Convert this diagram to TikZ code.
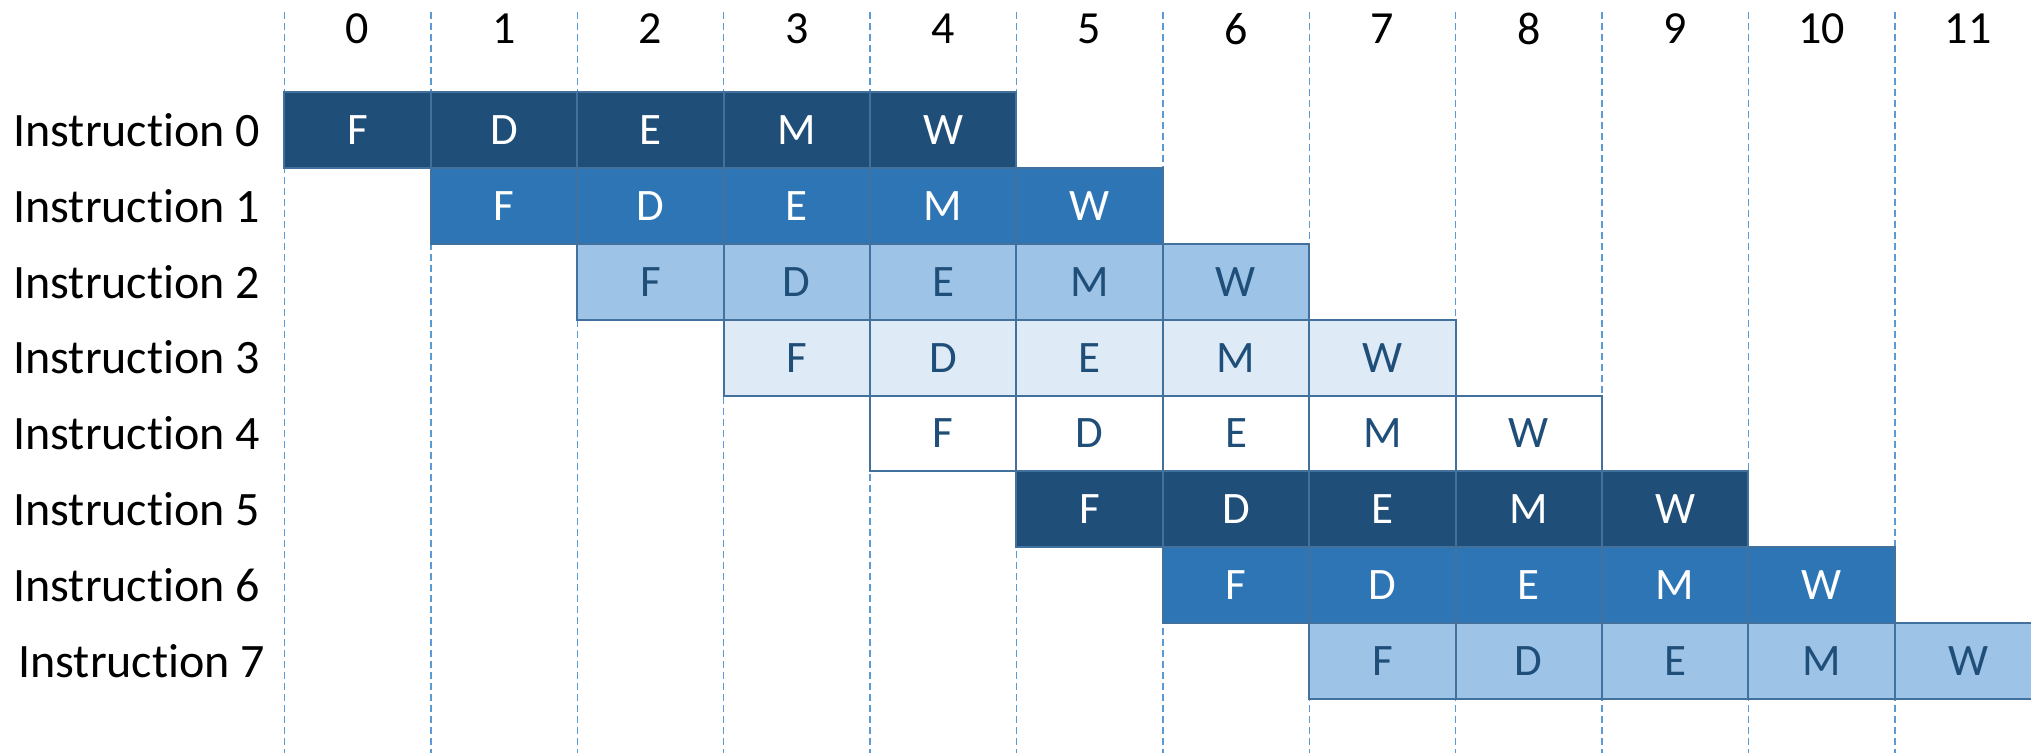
\documentclass[tikz,border=0pt]{standalone}
\usepackage{fontspec}
\setmainfont{Carlito}[Ligatures=NoCommon]
\definecolor{cDark}{HTML}{1F4E79}
\definecolor{cMid}{HTML}{2E75B6}
\definecolor{cLight}{HTML}{9DC3E6}
\definecolor{cPale}{HTML}{DEEBF7}
\definecolor{cEdge}{HTML}{41719C}
\definecolor{cGrid}{HTML}{5B9BD5}
\tikzset{
  gridline/.style={draw=cGrid, line width=0.7pt, dash pattern=on 3.5pt off 2pt},
  num/.style={font=\fontsize{23}{27}\selectfont, text=black, inner sep=0pt},
  lbl/.style={font=\fontsize{24}{28}\selectfont, text=black, inner sep=0pt, anchor=west},
  cell/.style={draw=cEdge, line width=1pt, minimum width=73.2pt, minimum height=37.95pt, inner sep=0pt, font=\fontsize{22.5}{26}\selectfont},
  s0/.style={fill=cDark, text=white},
  s1/.style={fill=cMid, text=white},
  s2/.style={fill=cLight, text=cDark},
  s3/.style={fill=cPale, text=cDark},
  s4/.style={fill=white, text=cDark},
}
\begin{document}
\begin{tikzpicture}[x=0.5pt, y=-0.5pt]
\useasboundingbox (0,0) rectangle (2031,753);
\clip (0,0) rectangle (2031,753);
\fill[white] (0,0) rectangle (2031,753);
\foreach \k in {0,...,11} {
  \draw[gridline] ({284.4+146.4*\k},12) -- ({284.4+146.4*\k},753);
  \node[num] (n\k) at ({284.4+146.4*\k+73.2},29) {\k};
}
\foreach \r in {0,...,6} {
  \node[lbl] (l\r) at (13,{92+75.9*\r+37.95}) {Instruction \r};
}
\node[lbl] (l7) at (18,{92+75.9*7+37.95}) {Instruction 7};
\foreach \r/\st in {0/s0,1/s1,2/s2,3/s3,4/s4,5/s0,6/s1,7/s2} {
  \foreach \s/\L in {0/F,1/D,2/E,3/M,4/W} {
    \node[cell, \st] (c\r-\s) at ({284.4+146.4*(\r+\s)+73.2},{92+75.9*\r+37.95}) {\L};
  }
}
\end{tikzpicture}
\end{document}
